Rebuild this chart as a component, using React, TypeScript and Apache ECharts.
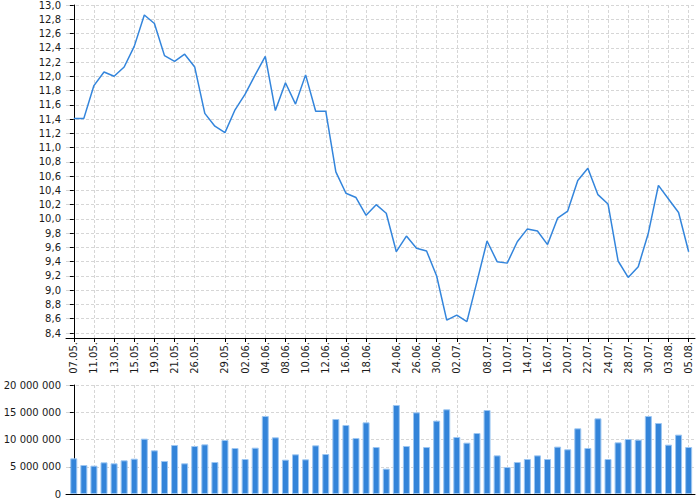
import * as echarts from "echarts";
import { useEffect, useRef } from "react";

const dates = [
  "07.05", "08.05", "11.05", "12.05", "13.05", "14.05", "15.05", "18.05", "19.05", "20.05",
  "21.05", "22.05", "26.05", "27.05", "28.05", "29.05", "01.06", "02.06", "03.06", "04.06",
  "05.06", "08.06", "09.06", "10.06", "11.06", "12.06", "15.06", "16.06", "17.06", "18.06",
  "19.06", "22.06", "24.06", "25.06", "26.06", "29.06", "30.06", "01.07", "02.07", "06.07",
  "07.07", "08.07", "09.07", "10.07", "13.07", "14.07", "15.07", "16.07", "17.07", "20.07",
  "21.07", "22.07", "23.07", "24.07", "27.07", "28.07", "29.07", "30.07", "31.07", "03.08",
  "04.08", "05.08",
];

const shownDates = [
  "07.05", "11.05", "13.05", "15.05", "19.05", "21.05", "26.05", "29.05", "02.06", "04.06",
  "08.06", "10.06", "12.06", "16.06", "18.06", "24.06", "26.06", "30.06", "02.07", "08.07",
  "10.07", "14.07", "16.07", "20.07", "22.07", "24.07", "28.07", "30.07", "03.08", "05.08",
];

const prices = [
  11.41, 11.41, 11.87, 12.06, 12.0, 12.13, 12.42, 12.86, 12.74, 12.29,
  12.21, 12.31, 12.13, 11.48, 11.3, 11.21, 11.53, 11.75, 12.02, 12.28,
  11.52, 11.91, 11.61, 12.02, 11.51, 11.51, 10.66, 10.36, 10.3, 10.05,
  10.2, 10.08, 9.54, 9.76, 9.59, 9.55, 9.2, 8.58, 8.65, 8.56,
  9.12, 9.69, 9.4, 9.38, 9.68, 9.86, 9.83, 9.64, 10.01, 10.11,
  10.54, 10.71, 10.34, 10.21, 9.41, 9.18, 9.33, 9.8, 10.47, 10.28,
  10.09, 9.54,
];

const volumes = [
  6540000, 5320000, 5200000, 5810000, 5630000, 6180000, 6480000, 10150000, 8010000, 6060000,
  8990000, 5630000, 8810000, 9110000, 5870000, 9910000, 8440000, 6420000, 8500000, 14310000,
  10400000, 6300000, 7280000, 6360000, 8930000, 7340000, 13760000, 12660000, 10280000, 13150000,
  8620000, 4650000, 16330000, 8810000, 14980000, 8620000, 13460000, 15540000, 10460000, 9420000,
  11190000, 15410000, 7090000, 4950000, 5870000, 6420000, 7090000, 6420000, 8690000, 8200000,
  12050000, 8440000, 13880000, 6420000, 9480000, 10090000, 9970000, 14310000, 13030000, 9050000,
  10890000, 8620000,
];

const priceTicks = [
  8.4, 8.6, 8.8, 9.0, 9.2, 9.4, 9.6, 9.8, 10.0, 10.2, 10.4, 10.6,
  10.8, 11.0, 11.2, 11.4, 11.6, 11.8, 12.0, 12.2, 12.4, 12.6, 12.8, 13.0,
];

const volumeTicks = [0, 5000000, 10000000, 15000000, 20000000];

const lineColor = "#3385dc";
const barColor = "#3384d9";
const gridColor = "#d6d6d6";
const textColor = "#1a1a1a";

export default function App() {
  const ref = useRef<HTMLDivElement | null>(null);

  useEffect(() => {
    document.body.style.margin = "0";
    if (!ref.current) return;
    const chart = echarts.init(ref.current, undefined, { renderer: "svg" });
    const labelIdx = shownDates.map((d) => dates.indexOf(d));
    const splitLine = { show: true, lineStyle: { color: gridColor, type: [3, 2] as number[], width: 1 } };
    const axisLine = { show: true, lineStyle: { color: "#000", width: 1 } };
    const fmtVolume = (v: number) => String(Math.round(v)).replace(/\B(?=(\d{3})+(?!\d))/g, " ");

    chart.setOption({
      animation: false,
      textStyle: { fontFamily: "DejaVu Sans" },
      grid: [
        { left: 66, right: 5, top: 5, height: 333 },
        { left: 66, right: 5, top: 385, height: 109 },
      ],
      xAxis: [
        {
          type: "value",
          gridIndex: 0,
          min: -0.77,
          max: 61.63,
          axisLine,
          axisTick: { show: true, customValues: labelIdx, length: 4, lineStyle: { color: "#000" } },
          axisLabel: {
            customValues: labelIdx,
            rotate: 90,
            margin: 4,
            fontSize: 10,
            color: textColor,
            formatter: (v: number) => `${dates[Math.round(v)]}.`,
          },
          splitLine,
        },
        {
          type: "value",
          gridIndex: 1,
          min: -0.77,
          max: 61.63,
          axisLine,
          axisTick: { show: false, customValues: labelIdx },
          axisLabel: { show: false, customValues: labelIdx },
          splitLine,
        },
      ],
      yAxis: [
        {
          type: "value",
          gridIndex: 0,
          min: 8.33,
          max: 13.0,
          axisLine,
          axisTick: { show: true, customValues: priceTicks, length: 4, lineStyle: { color: "#000" } },
          axisLabel: {
            customValues: priceTicks,
            margin: 5,
            fontSize: 10,
            color: textColor,
            formatter: (v: number) => v.toFixed(1).replace(".", ","),
          },
          splitLine,
        },
        {
          type: "value",
          gridIndex: 1,
          min: 0,
          max: 20000000,
          axisLine,
          axisTick: { show: true, customValues: volumeTicks, length: 4, lineStyle: { color: "#000" } },
          axisLabel: { customValues: volumeTicks, margin: 5, fontSize: 10, color: textColor, formatter: fmtVolume },
          splitLine,
        },
      ],
      series: [
        {
          type: "line",
          xAxisIndex: 0,
          yAxisIndex: 0,
          data: prices.map((v, i) => [i, v]),
          showSymbol: false,
          lineStyle: { color: lineColor, width: 1.5 },
        },
        {
          type: "bar",
          xAxisIndex: 1,
          yAxisIndex: 1,
          data: volumes.map((v, i) => [i, v]),
          barWidth: 7,
          itemStyle: { color: barColor, borderColor: "#9cc6f2", borderWidth: 1 },
        },
      ],
    });
    return () => chart.dispose();
  }, []);

  return <div ref={ref} style={{ width: 700, height: 500 }} />;
}
